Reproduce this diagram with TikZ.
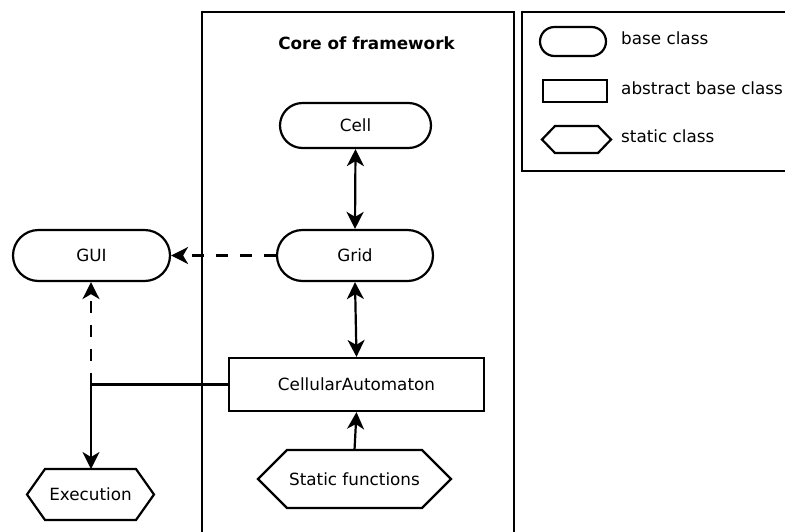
\documentclass[tikz,border=0pt]{standalone}
\usepackage{fontspec}
\setmainfont{DejaVu Sans}
\usetikzlibrary{shapes.misc,arrows.meta,calc}
\tikzset{
  lw/.style={line width=2.2pt},
  lbl/.style={font=\fontsize{16.8}{19}\selectfont},
  basecls/.style={rounded rectangle, draw, lw, inner sep=0pt, lbl},
  abstrcls/.style={rectangle, draw, lw, inner sep=0pt, lbl},
  hexcls/.style={rectangle, inner sep=0pt, outer sep=0pt, lbl},
  tipst/.tip={Stealth[length=17pt,width=17pt,inset=5pt]},
  conn/.style={lw, -tipst},
  biconn/.style={lw, tipst-tipst},
  dashconn/.style={lw, -tipst, dash pattern=on 12pt off 12pt},
}
\newcommand\hexdraw[2]{\draw[lw, line join=miter] let \p1=(#1.north west), \p2=(#1.south east) in
  (\x1,{(\y1+\y2)/2}) -- (\x1+#2pt,\y1) -- (\x2-#2pt,\y1) -- (\x2,{(\y1+\y2)/2}) -- (\x2-#2pt,\y2) -- (\x1+#2pt,\y2) -- cycle;}
\begin{document}
\begin{tikzpicture}[x=1pt,y=-1pt]
\useasboundingbox (0,0) rectangle (785,531);
% framework frame
\draw[lw] (202,545) -- (202,12) -- (514,12) -- (514,545);
\node[lbl, font=\fontsize{16.8}{19}\selectfont\bfseries] (title) at (366.5,43) {Core of framework};
% legend box
\draw[lw] (800,12) -- (522,12) -- (522,171) -- (800,171);
\node[basecls, minimum width=66pt, minimum height=29pt] (lgbase) at (573,41.5) {};
\node[abstrcls, minimum width=64pt, minimum height=22pt] (lgabs) at (575,91) {};
\node[hexcls, minimum width=69pt, minimum height=27pt] (lghex) at (576.5,139.5) {};
\hexdraw{lghex}{13}
\node[lbl, anchor=base west, inner sep=0pt] (lt1) at (621,44) {base class};
\node[lbl, anchor=base west, inner sep=0pt] (lt2) at (621,94) {abstract base class};
\node[lbl, anchor=base west, inner sep=0pt] (lt3) at (621,142) {static class};
% main nodes
\node[basecls, minimum width=151pt, minimum height=45pt] (cell) at (355.5,125.5) {Cell};
\node[basecls, minimum width=156pt, minimum height=51pt] (grid) at (355,255.5) {Grid};
\node[basecls, minimum width=157pt, minimum height=51pt] (gui) at (91.5,255.5) {GUI};
\node[abstrcls, minimum width=255pt, minimum height=53pt] (ca) at (356.5,384.5) {CellularAutomaton};
\node[hexcls, minimum width=193pt, minimum height=58pt] (sf) at (354.5,479) {Static functions};
\hexdraw{sf}{29}
\node[hexcls, minimum width=127pt, minimum height=51pt] (ex) at (90.5,494.5) {Execution};
\hexdraw{ex}{18}
% connectors
\draw[biconn] (cell.south) -- (grid.north);
\draw[biconn] (grid.south) -- (ca.north);
\draw[conn] (sf.north) -- (ca.south);
\draw[dashconn] (grid.west) -- (gui.east);
\coordinate (j) at (91,384.5);
\draw[lw] (ca.west) -- (j);
\draw[dashconn] (j) -- (j |- gui.south);
\draw[conn] (j) -- (j |- ex.north);
\end{tikzpicture}
\end{document}
